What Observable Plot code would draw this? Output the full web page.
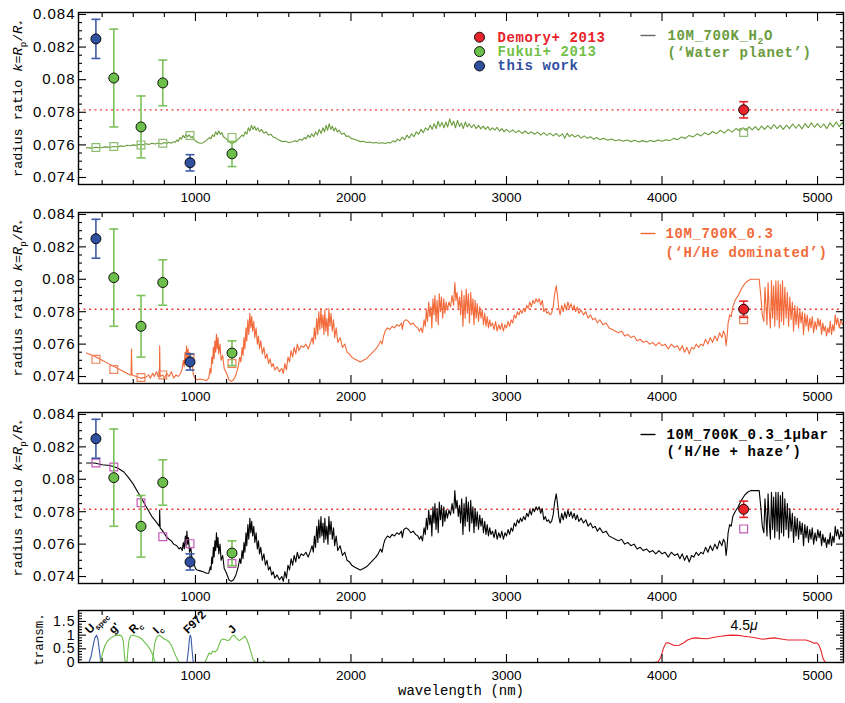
<!DOCTYPE html>
<html><head><meta charset="utf-8">
<script src="https://cdn.jsdelivr.net/npm/d3@7"></script>
<script src="https://cdn.jsdelivr.net/npm/@observablehq/plot@0.6"></script>
<style>
body{margin:0;background:#fff;}
#chart{width:845px;height:703px;overflow:hidden;}
#chart svg{display:block;}
</style></head><body><div id="chart"></div>
<script>
// ---------------- data ----------------
const xMajor = [1000, 2000, 3000, 4000, 5000];
const xMinor = [400,600,800,1200,1400,1600,1800,2200,2400,2600,2800,3200,3400,3600,3800,4200,4400,4600,4800];
const kMajor = [0.074, 0.076, 0.078, 0.080, 0.082, 0.084];
const kMinor = [0.0745,0.075,0.0755,0.0765,0.077,0.0775,0.0785,0.079,0.0795,0.0805,0.081,0.0815,0.0825,0.083,0.0835];
const tMajor = [0, 0.5, 1, 1.5];
const tMinor = [0.1,0.2,0.3,0.4,0.6,0.7,0.8,0.9,1.1,1.2,1.3,1.4,1.6,1.7,1.8];

const refLevel = 0.07815;

const thisWork = [
  {nm: 360, k: 0.0825, lo: 0.0813, hi: 0.0837},
  {nm: 965, k: 0.0749, lo: 0.0744, hi: 0.0754}
];
const fukui = [
  {nm: 475, k: 0.0801, lo: 0.0771, hi: 0.0831},
  {nm: 650, k: 0.0771, lo: 0.0752, hi: 0.0790},
  {nm: 790, k: 0.0798, lo: 0.0784, hi: 0.0812},
  {nm: 1235, k: 0.07545, lo: 0.07467, hi: 0.0762}
];
const demory = [
  {nm: 4525, k: 0.07815, lo: 0.07765, hi: 0.07865}
];

const waterBands = [[360,.07584],[475,.0759],[650,.0760],[790,.0761],[965,.07658],[1235,.07646],[4525,.07676]];
const hheBands   = [[360,.07506],[475,.07443],[650,.07394],[790,.0741],[965,.0751],[1235,.0748],[4525,.0775]];
const hazeBands  = [[360,.0810],[475,.08076],[650,.07855],[790,.07646],[965,.07603],[1235,.0748],[4525,.07694]];

const waterModel = [
[300,.07583],[330,.0758],[360,.07585],[390,.07582],[420,.07588],[450,.07585],[475,.0759],[500,.07587],[520,.07594],[540,.0759],
[560,.07598],[580,.07595],[600,.076],[620,.07597],[640,.07604],[660,.076],[680,.07607],[700,.07603],[720,.0761],[740,.07605],
[760,.07612],[780,.07606],[800,.07614],[815,.07608],[830,.07616],[845,.0761],[860,.0762],[870,.07615],[880,.0763],[890,.07622],
[900,.07645],[910,.07635],[920,.07658],[930,.07645],[940,.07665],[950,.0765],[960,.07662],[970,.07645],[980,.07652],[990,.07632],
[1000,.07625],[1015,.07615],[1030,.0761],[1045,.07612],[1060,.0762],[1075,.07632],[1090,.07645],[1100,.07638],[1110,.07662],[1120,.0765],
[1130,.0768],[1140,.07662],[1150,.07685],[1160,.07665],[1170,.07675],[1180,.0765],[1195,.0764],[1210,.07625],[1225,.07612],[1240,.0761],
[1255,.07618],[1270,.0763],[1285,.07645],[1300,.0766],[1310,.07652],[1320,.0768],[1330,.07665],[1340,.07705],[1350,.07685],[1360,.0772],
[1370,.07695],[1380,.07715],[1390,.0769],[1400,.07705],[1412,.07682],[1425,.07695],[1440,.07672],[1455,.0768],[1470,.0766],[1485,.07665],
[1500,.07648],[1520,.0764],[1540,.07628],[1560,.0762],[1580,.07622],[1600,.07615],[1620,.07618],[1640,.07625],[1655,.0762],[1670,.07635],
[1685,.07628],[1700,.07645],[1712,.07636],[1724,.0766],[1736,.07645],[1748,.07668],[1760,.0765],[1772,.0768],[1784,.0766],[1796,.07695],
[1808,.0767],[1820,.07705],[1830,.0768],[1840,.0772],[1850,.0769],[1860,.0773],[1870,.07695],[1880,.07715],[1890,.07685],[1900,.07705],
[1912,.0768],[1925,.0769],[1940,.07665],[1955,.07672],[1970,.07652],[1985,.07655],[2000,.0764],[2020,.07635],[2040,.07628],[2060,.0762],
[2080,.07622],[2100,.07615],[2120,.07618],[2140,.07612],[2160,.07615],[2180,.0761],[2200,.07613],[2220,.07608],[2240,.07615],[2255,.07612],
[2270,.07625],[2285,.07618],[2300,.07635],[2315,.07625],[2330,.07648],[2345,.07632],[2360,.0766],[2375,.07642],[2390,.07668],[2405,.0765],
[2420,.0768],[2435,.07665],[2450,.07695],[2465,.07675],[2480,.07705],[2495,.0769],[2510,.0772],[2522,.07695],[2535,.0773],[2548,.077],
[2560,.07745],[2572,.07712],[2585,.07738],[2598,.07705],[2610,.0774],[2622,.0771],[2635,.0776],[2648,.0772],[2660,.07745],[2672,.07705],
[2685,.0775],[2698,.07712],[2710,.07735],[2722,.077],[2735,.0774],[2748,.0771],[2760,.0773],[2775,.07705],[2790,.07725],[2805,.077],
[2820,.0772],[2835,.07698],[2850,.07715],[2865,.07695],[2880,.07712],[2895,.0769],[2910,.07705],[2925,.0769],[2940,.07708],[2955,.07685],
[2970,.077],[2985,.0768],[3000,.07695],[3020,.07678],[3040,.07692],[3060,.07675],[3080,.07688],[3100,.0767],[3120,.07685],[3140,.07668],
[3160,.0768],[3180,.07665],[3200,.07678],[3220,.0766],[3240,.07675],[3260,.07658],[3280,.07672],[3300,.07655],[3320,.0767],[3340,.07652],
[3360,.07668],[3375,.0764],[3390,.07672],[3405,.0765],[3420,.07665],[3440,.07648],[3460,.0766],[3480,.07642],[3500,.07655],[3520,.0764],
[3540,.0765],[3560,.07635],[3580,.07645],[3600,.07632],[3625,.0764],[3650,.07628],[3675,.07636],[3700,.07625],[3725,.07632],[3750,.07622],
[3775,.0763],[3800,.0762],[3825,.07628],[3850,.07618],[3875,.07626],[3900,.07618],[3925,.07627],[3950,.0762],[3975,.0763],[4000,.07622],
[4025,.07632],[4050,.07626],[4075,.0764],[4100,.07632],[4125,.07648],[4150,.0764],[4175,.07658],[4200,.07648],[4225,.07668],[4250,.07655],
[4275,.07675],[4300,.07662],[4325,.07682],[4350,.07668],[4375,.0769],[4400,.07672],[4425,.07695],[4450,.07678],[4475,.077],[4500,.07685],
[4520,.07705],[4540,.07688],[4560,.0771],[4580,.07692],[4600,.07712],[4620,.0769],[4640,.07715],[4660,.07695],[4680,.07718],[4700,.07698],
[4720,.07725],[4740,.077],[4760,.0772],[4780,.07695],[4800,.07722],[4820,.077],[4840,.07728],[4860,.07702],[4880,.07725],[4900,.07698],
[4920,.0773],[4940,.07705],[4960,.07735],[4980,.07708],[5000,.0773],[5020,.07705],[5040,.07728],[5060,.077],[5080,.07735],[5100,.0771],
[5120,.0774],[5140,.07712],[5160,.07738],[5170,.0772]
];

const hheModel = [
[300,.07545],[350,.07525],[400,.075],[450,.07475],[500,.0745],[550,.07425],[580,.0741],[586,.0741],[589,.0757],[592,.0741],
[620,.074],[650,.0739],[680,.07395],[700,.0741],[710,.0739],[725,.0742],[735,.074],[750,.0743],[760,.074],[768,.074],
[770,.0759],[773,.074],[790,.0741],[800,.0739],[815,.0742],[830,.074],[845,.0743],[860,.0739],[875,.0741],[890,.074],
[905,.0742],[915,.0745],[922,.075],[928,.0746],[933,.0755],[938,.075],[943,.0759],[948,.0752],[953,.0757],[958,.0749],
[963,.0755],[970,.0747],[978,.0751],[985,.0742],[995,.0739],[1010,.0738],[1030,.07385],[1050,.0738],[1070,.07375],[1085,.0739],
[1095,.0745],[1100,.0742],[1105,.0752],[1110,.0748],[1115,.0758],[1120,.0751],[1125,.0762],[1130,.0755],[1135,.0766],[1140,.0757],
[1145,.0764],[1150,.0754],[1158,.076],[1165,.075],[1175,.0753],[1185,.0745],[1200,.0742],[1215,.0738],[1230,.0737],[1245,.0738],
[1260,.0741],[1275,.0746],[1285,.0752],[1292,.0749],[1300,.0758],[1306,.0753],[1312,.0764],[1318,.0757],[1325,.077],[1330,.0762],
[1337,.0775],[1343,.0766],[1350,.0779],[1356,.077],[1362,.0777],[1368,.0768],[1375,.0774],[1382,.0764],[1390,.077],[1398,.076],
[1405,.0765],[1412,.0757],[1420,.0762],[1430,.0754],[1440,.0758],[1450,.0751],[1460,.0754],[1470,.0748],[1480,.0751],[1490,.0746],
[1500,.0748],[1510,.0744],[1525,.0746],[1540,.0743],[1555,.0745],[1565,.0742],[1575,.0748],[1585,.0744],[1595,.0752],[1605,.0749],
[1615,.0756],[1625,.0752],[1635,.0758],[1645,.0754],[1655,.076],[1665,.0756],[1680,.0759],[1695,.0758],[1710,.076],[1725,.0757],
[1740,.0761],[1750,.0764],[1758,.076],[1765,.077],[1772,.0763],[1780,.0776],[1787,.0766],[1793,.078],[1800,.0769],[1807,.0782],
[1813,.077],[1820,.0778],[1826,.0766],[1832,.0781],[1838,.0768],[1845,.0776],[1852,.0765],[1858,.0782],[1865,.0771],[1872,.0779],
[1880,.0768],[1888,.0775],[1895,.0764],[1905,.077],[1915,.0761],[1930,.0764],[1945,.0758],[1960,.076],[1975,.0755],[1990,.0754],
[2005,.0752],[2020,.0751],[2040,.075],[2060,.0749],[2080,.075],[2100,.0751],[2120,.0753],[2140,.0755],[2160,.0757],[2175,.0759],
[2190,.0762],[2200,.076],[2210,.0765],[2220,.0768],[2235,.077],[2250,.0769],[2265,.0771],[2280,.077],[2295,.0772],[2310,.0771],
[2325,.0773],[2330,.0769],[2340,.0774],[2355,.0775],[2370,.0774],[2385,.0772],[2400,.0773],[2415,.0771],[2430,.077],[2440,.0768],
[2450,.077],[2460,.0767],[2470,.0775],[2478,.0771],[2485,.0781],[2492,.0774],[2500,.0786],[2507,.0777],[2514,.0783],[2520,.077],
[2527,.0788],[2534,.0778],[2540,.079],[2547,.0774],[2554,.0787],[2561,.0772],[2568,.0791],[2575,.078],[2582,.0789],[2590,.0776],
[2597,.0788],[2604,.0779],[2612,.0786],[2620,.0781],[2630,.0786],[2640,.0783],[2650,.079],[2660,.0784],[2668,.0798],[2675,.0787],
[2682,.0792],[2690,.0782],[2698,.0789],[2705,.0778],[2712,.0793],[2720,.0771],[2727,.079],[2734,.0776],[2741,.0794],[2748,.0779],
[2755,.0791],[2762,.0773],[2770,.0792],[2777,.0778],[2784,.0788],[2791,.0772],[2798,.0787],[2805,.0776],[2812,.0785],[2820,.0774],
[2828,.0783],[2836,.0776],[2844,.0781],[2852,.0772],[2860,.0779],[2868,.0771],[2876,.0777],[2884,.077],[2892,.0775],[2900,.0771],
[2910,.0773],[2920,.0769],[2930,.0774],[2940,.0768],[2950,.0772],[2960,.0769],[2970,.0773],[2980,.0768],[2990,.0772],[3000,.077],
[3010,.0774],[3020,.0771],[3030,.0775],[3040,.0773],[3050,.0778],[3060,.0776],[3070,.078],[3080,.0778],[3090,.0781],[3100,.0779],
[3110,.0782],[3120,.078],[3130,.0784],[3140,.0782],[3150,.0786],[3160,.0783],[3170,.0787],[3180,.0785],[3190,.0788],[3200,.0786],
[3210,.0788],[3220,.0784],[3230,.0787],[3240,.078],[3250,.0782],[3260,.0779],[3270,.078],[3280,.0778],[3290,.0779],[3300,.0783],
[3310,.0791],[3320,.0796],[3328,.079],[3336,.0782],[3345,.0778],[3355,.0784],[3365,.078],[3375,.0785],[3385,.0781],[3395,.0786],
[3405,.0782],[3415,.0785],[3425,.0781],[3435,.0784],[3445,.078],[3455,.0783],[3465,.0779],[3480,.0781],[3495,.0778],[3510,.078],
[3525,.0776],[3540,.0778],[3555,.0775],[3570,.0776],[3585,.0773],[3600,.0775],[3620,.0772],[3640,.0773],[3660,.077],[3680,.0769],
[3700,.0768],[3720,.0767],[3740,.0768],[3760,.0765],[3780,.0766],[3800,.0764],[3820,.0765],[3840,.0762],[3860,.0763],[3880,.0761],
[3900,.0762],[3920,.076],[3940,.0761],[3960,.0759],[3980,.0761],[4000,.0759],[4020,.076],[4040,.0757],[4060,.076],[4080,.0758],
[4100,.0759],[4115,.0756],[4130,.0759],[4145,.0755],[4160,.0758],[4175,.0754],[4190,.0758],[4205,.0757],[4220,.076],[4235,.0758],
[4250,.076],[4265,.0759],[4280,.0763],[4295,.076],[4310,.0764],[4325,.0761],[4340,.0765],[4355,.0762],[4370,.0767],[4385,.0764],
[4395,.0768],[4405,.0766],[4412,.0759],[4418,.0764],[4425,.0773],[4435,.0778],[4445,.0777],[4455,.0783],[4470,.0787],[4490,.079],
[4510,.0794],[4530,.0797],[4550,.0799],[4570,.08],[4600,.08],[4625,.08],[4635,.079],[4645,.0778],[4655,.0774],[4662,.0795],
[4668,.0785],[4675,.0772],[4682,.0798],[4690,.078],[4697,.077],[4704,.0799],[4711,.0776],[4718,.0796],[4725,.0771],[4732,.0799],
[4740,.0775],[4747,.0799],[4754,.077],[4761,.0797],[4768,.0774],[4775,.0799],[4782,.0772],[4790,.0795],[4798,.0776],[4806,.0792],
[4814,.0771],[4822,.0789],[4830,.0775],[4838,.0786],[4846,.0768],[4854,.0784],[4862,.0772],[4870,.0783],[4878,.077],[4886,.0781],
[4894,.0773],[4902,.078],[4910,.0766],[4918,.0779],[4926,.0771],[4934,.0778],[4942,.0768],[4950,.0776],[4958,.077],[4966,.0777],
[4975,.0767],[4984,.0774],[4993,.0769],[5002,.0776],[5010,.0771],[5018,.0775],[5026,.0766],[5034,.0773],[5042,.0768],[5050,.0771],
[5058,.0765],[5066,.077],[5074,.0767],[5082,.0774],[5090,.0766],[5098,.0772],[5106,.0768],[5114,.0778],[5122,.0772],[5130,.0776],
[5140,.077],[5150,.0775],[5160,.0772],[5170,.0774]
];

const hazeModel = [
[300,.081],[350,.081],[400,.0809],[450,.08085],[500,.0807],[540,.08045],[570,.0801],[600,.0797],[630,.0792],[660,.0787],
[690,.0782],[720,.0777],[745,.0774],[760,.0772],[768,.0771],[770,.0781],[773,.077],[790,.0768],[810,.0765],[830,.0763],
[845,.0762],[860,.076],[880,.0759],[895,.0757],[905,.0758],[915,.0756],[922,.0761],[928,.0757],[935,.0765],[940,.0759],
[945,.0768],[950,.076],[955,.0764],[962,.0755],[970,.0758],[978,.0751],[990,.0748],[1000,.0745],[1010,.0744],[1030,.07435],
[1050,.0743],[1070,.0742],[1085,.0742],[1095,.0746],[1100,.0744],[1105,.0752],[1110,.0748],[1115,.0758],[1120,.0752],[1125,.0762],
[1130,.0756],[1135,.0767],[1140,.0758],[1145,.0764],[1150,.0754],[1158,.076],[1165,.075],[1175,.0753],[1185,.0745],[1200,.0742],
[1215,.0738],[1230,.0737],[1245,.0738],[1260,.0741],[1275,.0746],[1285,.0751],[1292,.0748],[1300,.0756],[1306,.0751],[1312,.0761],
[1318,.0755],[1325,.0767],[1330,.0759],[1337,.0772],[1343,.0763],[1350,.0776],[1356,.0767],[1362,.0774],[1368,.0765],[1375,.0771],
[1382,.0761],[1390,.0767],[1398,.0757],[1405,.0762],[1412,.0754],[1420,.0758],[1430,.075],[1440,.0754],[1450,.0747],[1460,.075],
[1470,.0744],[1480,.0746],[1490,.0741],[1500,.0743],[1510,.0739],[1525,.0741],[1540,.0738],[1555,.074],[1565,.0737],[1575,.0743],
[1585,.0739],[1595,.0747],[1605,.0744],[1615,.0751],[1625,.0747],[1635,.0753],[1645,.0749],[1655,.0755],[1665,.0751],[1680,.0754],
[1695,.0753],[1710,.0755],[1725,.0752],[1740,.0756],[1750,.0759],[1758,.0755],[1765,.0765],[1772,.0758],[1780,.0771],[1787,.0761],
[1793,.0775],[1800,.0764],[1807,.0777],[1813,.0765],[1820,.0773],[1826,.0761],[1832,.0776],[1838,.0763],[1845,.0771],[1852,.076],
[1858,.0777],[1865,.0766],[1872,.0774],[1880,.0763],[1888,.077],[1895,.0759],[1905,.0765],[1915,.0756],[1930,.0759],[1945,.0753],
[1960,.0755],[1975,.075],[1990,.0749],[2005,.0747],[2020,.0746],[2040,.0745],[2060,.0744],[2080,.0745],[2100,.0746],[2120,.0748],
[2140,.075],[2160,.0752],[2175,.0754],[2190,.0757],[2200,.0755],[2210,.076],[2220,.0763],[2235,.0765],[2250,.0764],[2265,.0766],
[2280,.0765],[2295,.0767],[2310,.0766],[2325,.0768],[2330,.0764],[2340,.0769],[2355,.077],[2370,.0769],[2385,.0767],[2400,.0768],
[2415,.0766],[2430,.0765],[2440,.0763],[2450,.0765],[2460,.0762],[2470,.077],[2478,.0766],[2485,.0776],[2492,.0769],[2500,.0781],
[2507,.0772],[2514,.0778],[2520,.0765],[2527,.0783],[2534,.0773],[2540,.0785],[2547,.0769],[2554,.0782],[2561,.0767],[2568,.0786],
[2575,.0775],[2582,.0784],[2590,.0771],[2597,.0783],[2604,.0774],[2612,.0781],[2620,.0776],[2630,.0781],[2640,.0778],[2650,.0785],
[2660,.0779],[2668,.0793],[2675,.0782],[2682,.0787],[2690,.0777],[2698,.0784],[2705,.0773],[2712,.0788],[2720,.0766],[2727,.0785],
[2734,.0771],[2741,.0789],[2748,.0774],[2755,.0786],[2762,.0768],[2770,.0787],[2777,.0773],[2784,.0783],[2791,.0767],[2798,.0782],
[2805,.0771],[2812,.078],[2820,.0769],[2828,.0778],[2836,.0771],[2844,.0776],[2852,.0767],[2860,.0774],[2868,.0766],[2876,.0772],
[2884,.0765],[2892,.077],[2900,.0766],[2910,.0768],[2920,.0764],[2930,.0769],[2940,.0763],[2950,.0767],[2960,.0764],[2970,.0768],
[2980,.0763],[2990,.0767],[3000,.0765],[3010,.0769],[3020,.0766],[3030,.077],[3040,.0768],[3050,.0773],[3060,.0771],[3070,.0775],
[3080,.0773],[3090,.0776],[3100,.0774],[3110,.0777],[3120,.0775],[3130,.0779],[3140,.0777],[3150,.0781],[3160,.0778],[3170,.0782],
[3180,.078],[3190,.0783],[3200,.0781],[3210,.0783],[3220,.0779],[3230,.0782],[3240,.0775],[3250,.0777],[3260,.0774],[3270,.0775],
[3280,.0773],[3290,.0774],[3300,.0778],[3310,.0786],[3320,.0791],[3328,.0785],[3336,.0777],[3345,.0773],[3355,.0779],[3365,.0775],
[3375,.078],[3385,.0776],[3395,.0781],[3405,.0777],[3415,.078],[3425,.0776],[3435,.0779],[3445,.0775],[3455,.0778],[3465,.0774],
[3480,.0776],[3495,.0773],[3510,.0775],[3525,.0771],[3540,.0773],[3555,.077],[3570,.0771],[3585,.0768],[3600,.077],[3620,.0767],
[3640,.0768],[3660,.0765],[3680,.0764],[3700,.0763],[3720,.0762],[3740,.0763],[3760,.076],[3780,.0761],[3800,.0759],[3820,.076],
[3840,.0757],[3860,.0758],[3880,.0756],[3900,.0757],[3920,.0755],[3940,.0756],[3960,.0754],[3980,.0756],[4000,.0754],[4020,.0755],
[4040,.0752],[4060,.0755],[4080,.0753],[4100,.0754],[4115,.0751],[4130,.0754],[4145,.075],[4160,.0753],[4175,.0749],[4190,.0753],
[4205,.0752],[4220,.0755],[4235,.0753],[4250,.0755],[4265,.0754],[4280,.0758],[4295,.0755],[4310,.0759],[4325,.0756],[4340,.076],
[4355,.0757],[4370,.0762],[4385,.0759],[4395,.0763],[4405,.0761],[4412,.0753],[4418,.0758],[4425,.0767],[4435,.0772],[4445,.0771],
[4455,.0777],[4470,.078],[4490,.0783],[4510,.0787],[4530,.079],[4550,.0792],[4570,.0793],[4600,.0793],[4625,.0793],[4635,.0783],
[4645,.0771],[4655,.0767],[4662,.0788],[4668,.0778],[4675,.0765],[4682,.0791],[4690,.0773],[4697,.0763],[4704,.0792],[4711,.0769],
[4718,.0789],[4725,.0764],[4732,.0792],[4740,.0768],[4747,.0792],[4754,.0763],[4761,.079],[4768,.0767],[4775,.0792],[4782,.0765],
[4790,.0788],[4798,.0769],[4806,.0785],[4814,.0764],[4822,.0782],[4830,.0768],[4838,.0779],[4846,.0761],[4854,.0777],[4862,.0765],
[4870,.0776],[4878,.0763],[4886,.0774],[4894,.0766],[4902,.0773],[4910,.0759],[4918,.0772],[4926,.0764],[4934,.0771],[4942,.0761],
[4950,.0769],[4958,.0763],[4966,.077],[4975,.076],[4984,.0767],[4993,.0762],[5002,.0769],[5010,.0764],[5018,.0768],[5026,.0759],
[5034,.0766],[5042,.0761],[5050,.0764],[5058,.0758],[5066,.0763],[5074,.076],[5082,.0767],[5090,.0759],[5098,.0765],[5106,.0761],
[5114,.0771],[5122,.0765],[5130,.0769],[5140,.0763],[5150,.0768],[5160,.0765],[5170,.0767]
];

// filter transmission curves
const uFilter = [[315,0],[328,.2],[340,.55],[352,.88],[364,1],[373,.85],[382,.45],[391,0]];
const gFilter = [[385,0],[395,.15],[402,.32],[418,.62],[434,.78],[455,.9],[477,.97],[500,1],[520,.99],[530,.92],[537,.75],[542,.35],[547,.06],[559,0]];
const rcFilter = [[560,0],[565,.4],[572,.8],[582,.96],[595,1],[615,.97],[635,.93],[655,.86],[675,.73],[692,.62],[708,.48],[724,.3],[735,.1],[742,0]];
const icFilter = [[722,0],[730,.35],[740,.75],[752,.93],[766,1],[780,.95],[799,.86],[815,.82],[831,.75],[847,.6],[863,.38],[880,.15],[895,0]];
const f972Filter = [[945,0],[955,.45],[962,.9],[967,1],[972,.9],[979,.4],[986,0]];
const jFilter = [[1060,0],[1075,.18],[1088,.35],[1100,.3],[1110,.42],[1125,.38],[1142,.48],[1155,.7],[1165,.82],[1178,.86],[1190,.84],[1205,.8],[1217,.82],[1235,.96],[1249,1],[1262,.9],[1281,.8],[1300,.87],[1318,.96],[1330,.85],[1345,.62],[1358,.35],[1370,.12],[1385,.02],[1400,0]];
const jTail = [[1432,0],[1440,.06],[1447,0]];
const irac45Filter = [[3950,0],[3975,.03],[3993,.2],[4008,.5],[4025,.71],[4040,.72],[4057,.68],[4080,.62],[4110,.63],[4140,.72],[4164,.82],[4190,.88],[4218,.9],[4250,.88],[4293,.87],[4335,.92],[4379,.96],[4420,.99],[4454,1],[4490,.99],[4529,.96],[4580,.92],[4647,.85],[4690,.88],[4722,.9],[4765,.86],[4808,.82],[4870,.82],[4925,.82],[4955,.77],[4979,.7],[4995,.72],[5008,.65],[5022,.45],[5035,.15],[5048,.02],[5062,0]];
const filterLabels = [
  {name: "U_{spec}", nm: 320, t: 1},
  {name: "g'", nm: 473, t: 1},
  {name: "R_{c}", nm: 602, t: 1},
  {name: "I_{c}", nm: 756, t: 1},
  {name: "F972", nm: 952, t: 1},
  {name: "J", nm: 1238, t: 1}
];
const iracLabel = [{name: "4.5~{μ}", nm: 4528, t: 1}];

const ptLegend = ["Demory+ 2013", "Fukui+ 2013", "this work"];
const waterLegend = ["10M_700K_H_{2}O", "(‘Water planet’)"];
const hheLegend = ["10M_700K_0.3", "(‘H/He dominated’)"];
const hazeLegend = ["10M_700K_0.3_1μbar", "(‘H/He + haze’)"];
const kLabel = "radius ratio ~{k}=~{R}_{p}/~{R}_{*}";

// ---------------- styling ----------------
const SANS = "Liberation Sans, Arial, Helvetica, sans-serif";
const MONO = "Liberation Mono, DejaVu Sans Mono, monospace";
const RED = "#e8232a", GREEN_PT = "#6cbf4a", GREEN_BAR = "#7cc25c", BLUE_PT = "#2f4f9f", BLUE_BAR = "#3d5ca8";
const WATER = "#6a9b3c", WATER_SQ = "#8fba72", ORANGE = "#f26a3a", ORANGE_SQ = "#f0825a", MAGENTA = "#c25ab5";
const DOTTED = "#f03a3a";
const X_DOMAIN = [248, 5167];
const K_DOMAIN = [0.07357, 0.08412];

const hline = w => ({draw(ctx) { ctx.moveTo(-w, 0); ctx.lineTo(w, 0); }});

function frameTicks(yMaj, yMin) {
  const c = {tickFormat: () => "", label: null, strokeWidth: 1.1};
  return [
    Plot.axisX({...c, ticks: xMajor, anchor: "bottom", tickSize: -8}),
    Plot.axisX({...c, ticks: xMinor, anchor: "bottom", tickSize: -4}),
    Plot.axisX({...c, ticks: xMajor, anchor: "top", tickSize: -8}),
    Plot.axisX({...c, ticks: xMinor, anchor: "top", tickSize: -4}),
    Plot.axisY({...c, ticks: yMaj, anchor: "left", tickSize: -8}),
    Plot.axisY({...c, ticks: yMin, anchor: "left", tickSize: -4}),
    Plot.axisY({...c, ticks: yMaj, anchor: "right", tickSize: -8}),
    Plot.axisY({...c, ticks: yMin, anchor: "right", tickSize: -4})
  ];
}
function xLabels() {
  return Plot.axisX({ticks: xMajor, anchor: "bottom", tickSize: 0, tickPadding: 8, label: null,
    fontSize: 13.5, fontFamily: SANS, tickFormat: d => String(d)});
}
function errMarks(data, color) {
  return [
    Plot.ruleX(data, {x: "nm", y1: "lo", y2: "hi", stroke: color, strokeWidth: 1.6}),
    Plot.dot(data, {x: "nm", y: "lo", symbol: hline(4.5), fill: "none", stroke: color, strokeWidth: 1.6}),
    Plot.dot(data, {x: "nm", y: "hi", symbol: hline(4.5), fill: "none", stroke: color, strokeWidth: 1.6})
  ];
}
function pointMarks(data, color) {
  return Plot.dot(data, {x: "nm", y: "k", r: 5, fill: color, stroke: "black", strokeWidth: 0.9});
}
function modelLegend(lines, color, dashColor, dashDy, textDx, dys) {
  return [
    Plot.dot([0], {frameAnchor: "top-left", dx: 569.5, dy: dashDy, symbol: hline(7.5), fill: "none", stroke: dashColor, strokeWidth: 1.4}),
    ...lines.map((s, i) => Plot.text([s], {frameAnchor: "top-left", dx: textDx, dy: dys[i], text: d => d,
      textAnchor: "start", lineAnchor: "middle", fill: color, fontFamily: MONO, fontWeight: "bold", fontSize: 14}))
  ];
}

function specPanel({model, lineColor, bands, bandColor, legend, height, mt, mb}) {
  return Plot.plot({
    width: 845, height, marginTop: mt, marginBottom: mb, marginLeft: 78, marginRight: 2,
    style: {fontFamily: SANS, background: "white"},
    x: {domain: X_DOMAIN}, y: {domain: K_DOMAIN},
    marks: [
      Plot.ruleY([refLevel], {stroke: DOTTED, strokeDasharray: "2,3.5", strokeWidth: 1.3}),
      Plot.line(model, {x: d => d[0], y: d => d[1], stroke: lineColor, strokeWidth: 1.1, clip: true}),
      Plot.dot(bands, {x: d => d[0], y: d => d[1], symbol: "square", r: 4.4, fill: "none", stroke: bandColor, strokeWidth: 1.2}),
      ...errMarks(thisWork, BLUE_BAR), ...errMarks(fukui, GREEN_BAR), ...errMarks(demory, RED),
      pointMarks(thisWork, BLUE_PT), pointMarks(fukui, GREEN_PT), pointMarks(demory, RED),
      ...legend,
      Plot.text([kLabel], {frameAnchor: "left", dx: -61, rotate: -90, text: d => d, textAnchor: "middle", lineAnchor: "middle",
        fontFamily: MONO, fontSize: 13.5}),
      Plot.frame({stroke: "black", strokeWidth: 1.4}),
      ...frameTicks(kMajor, kMinor),
      Plot.axisY({ticks: kMajor, anchor: "left", tickSize: 0, tickPadding: 3, label: null, fontSize: 15, fontFamily: SANS,
        tickFormat: d => String(+d.toFixed(3))}),
      xLabels()
    ]
  });
}

const ptColors = [RED, "#72bf48", BLUE_PT];
const legend1 = [
  ...ptLegend.map((s, i) => Plot.dot([s], {frameAnchor: "top-left", dx: 401, dy: 24.7 + i * 14.4, r: 5,
    fill: [RED, GREEN_PT, BLUE_PT][i], stroke: "black", strokeWidth: 0.9})),
  ...ptLegend.map((s, i) => Plot.text([s], {frameAnchor: "top-left", dx: 419, dy: 24.7 + i * 14.4, text: d => d,
    textAnchor: "start", lineAnchor: "middle", fill: ptColors[i], fontFamily: MONO, fontWeight: "bold", fontSize: 14})),
  ...modelLegend(waterLegend, WATER, "#666", 23, 589, [23, 40])
];

const p1 = specPanel({model: waterModel, lineColor: WATER, bands: waterBands, bandColor: WATER_SQ, legend: legend1, height: 205, mt: 12, mb: 21});
const p2 = specPanel({model: hheModel, lineColor: ORANGE, bands: hheBands, bandColor: ORANGE_SQ,
  legend: modelLegend(hheLegend, ORANGE, ORANGE, 21, 587, [21, 40]), height: 200, mt: 7, mb: 22});
const p3 = specPanel({model: hazeModel, lineColor: "black", bands: hazeBands, bandColor: MAGENTA,
  legend: modelLegend(hazeLegend, "black", "black", 22, 588, [22, 39]), height: 200, mt: 7, mb: 22});

const FBLUE = "#3b5ba8", FGREEN = "#6cc04a", FRED = "#e8262b";
const fl = (data, color) => Plot.line(data, {x: d => d[0], y: d => d[1], stroke: color, strokeWidth: 1.1});
const p4 = Plot.plot({
  width: 845, height: 98, marginTop: 5, marginBottom: 41, marginLeft: 78, marginRight: 2,
  style: {fontFamily: SANS, background: "white"},
  x: {domain: X_DOMAIN}, y: {domain: [0, 1.9]},
  marks: [
    fl(uFilter, FBLUE), fl(gFilter, FGREEN), fl(rcFilter, FGREEN), fl(icFilter, FGREEN), fl(f972Filter, FBLUE),
    fl(jFilter, FGREEN), fl(jTail, FGREEN), fl(irac45Filter, FRED),
    Plot.text(filterLabels, {x: "nm", y: "t", text: "name", rotate: -45, textAnchor: "start", lineAnchor: "bottom", dy: -1,
      fontSize: 11.5, fontWeight: "bold", fontFamily: SANS}),
    Plot.text(iracLabel, {x: "nm", y: "t", text: "name", lineAnchor: "bottom", dy: -5, fontSize: 14, fontFamily: SANS}),
    Plot.text(["transm."], {frameAnchor: "left", dx: -40, dy: 3, rotate: -90, text: d => d, textAnchor: "middle", lineAnchor: "middle",
      fontFamily: MONO, fontSize: 12.5}),
    Plot.text(["wavelength (nm)"], {frameAnchor: "bottom", dy: 28, text: d => d, textAnchor: "middle", lineAnchor: "middle",
      fontFamily: MONO, fontSize: 14}),
    Plot.frame({stroke: "black", strokeWidth: 1.4}),
    ...frameTicks(tMajor, tMinor),
    Plot.axisY({ticks: tMajor, anchor: "left", tickSize: 0, tickPadding: 3, label: null, fontSize: 14, fontFamily: SANS,
      tickFormat: d => String(d)}),
    xLabels()
  ]
});

const chart = document.getElementById("chart");
[p1, p2, p3, p4].forEach(p => chart.appendChild(p));

// rich text: _{sub} and ~{italic}
function richText(svg) {
  svg.querySelectorAll("text").forEach(t => {
    const s = t.textContent;
    if (!/[_~]\{/.test(s)) return;
    const fs = parseFloat(getComputedStyle(t).fontSize) || 12;
    t.textContent = "";
    const re = /_\{([^}]*)\}|~\{([^}]*)\}|[^_~]+|[_~]/g;
    let m, shift = 0;
    while ((m = re.exec(s))) {
      const ts = document.createElementNS("http://www.w3.org/2000/svg", "tspan");
      if (m[1] !== undefined) {
        ts.textContent = m[1];
        ts.setAttribute("font-size", (fs * 0.68).toFixed(1));
        const target = fs * 0.3;
        ts.setAttribute("dy", (target - shift).toFixed(2));
        shift = target;
      } else {
        ts.textContent = m[2] !== undefined ? m[2] : m[0];
        if (m[2] !== undefined) ts.setAttribute("font-style", "italic");
        if (shift) { ts.setAttribute("dy", (-shift).toFixed(2)); shift = 0; }
      }
      t.appendChild(ts);
    }
  });
  svg.querySelectorAll('g[aria-label="y-axis tick label"]').forEach(g => g.setAttribute("letter-spacing", "1"));
  // legend text in the original is set slightly wide
  svg.querySelectorAll("text").forEach(t => {
    if (t.closest("g") && t.closest("g").getAttribute("font-weight") === "bold" && t.closest("g").getAttribute("font-family") === MONO)
      t.setAttribute("letter-spacing", "0.6");
  });
}
[p1, p2, p3, p4].forEach(richText);
</script>
</body></html>
